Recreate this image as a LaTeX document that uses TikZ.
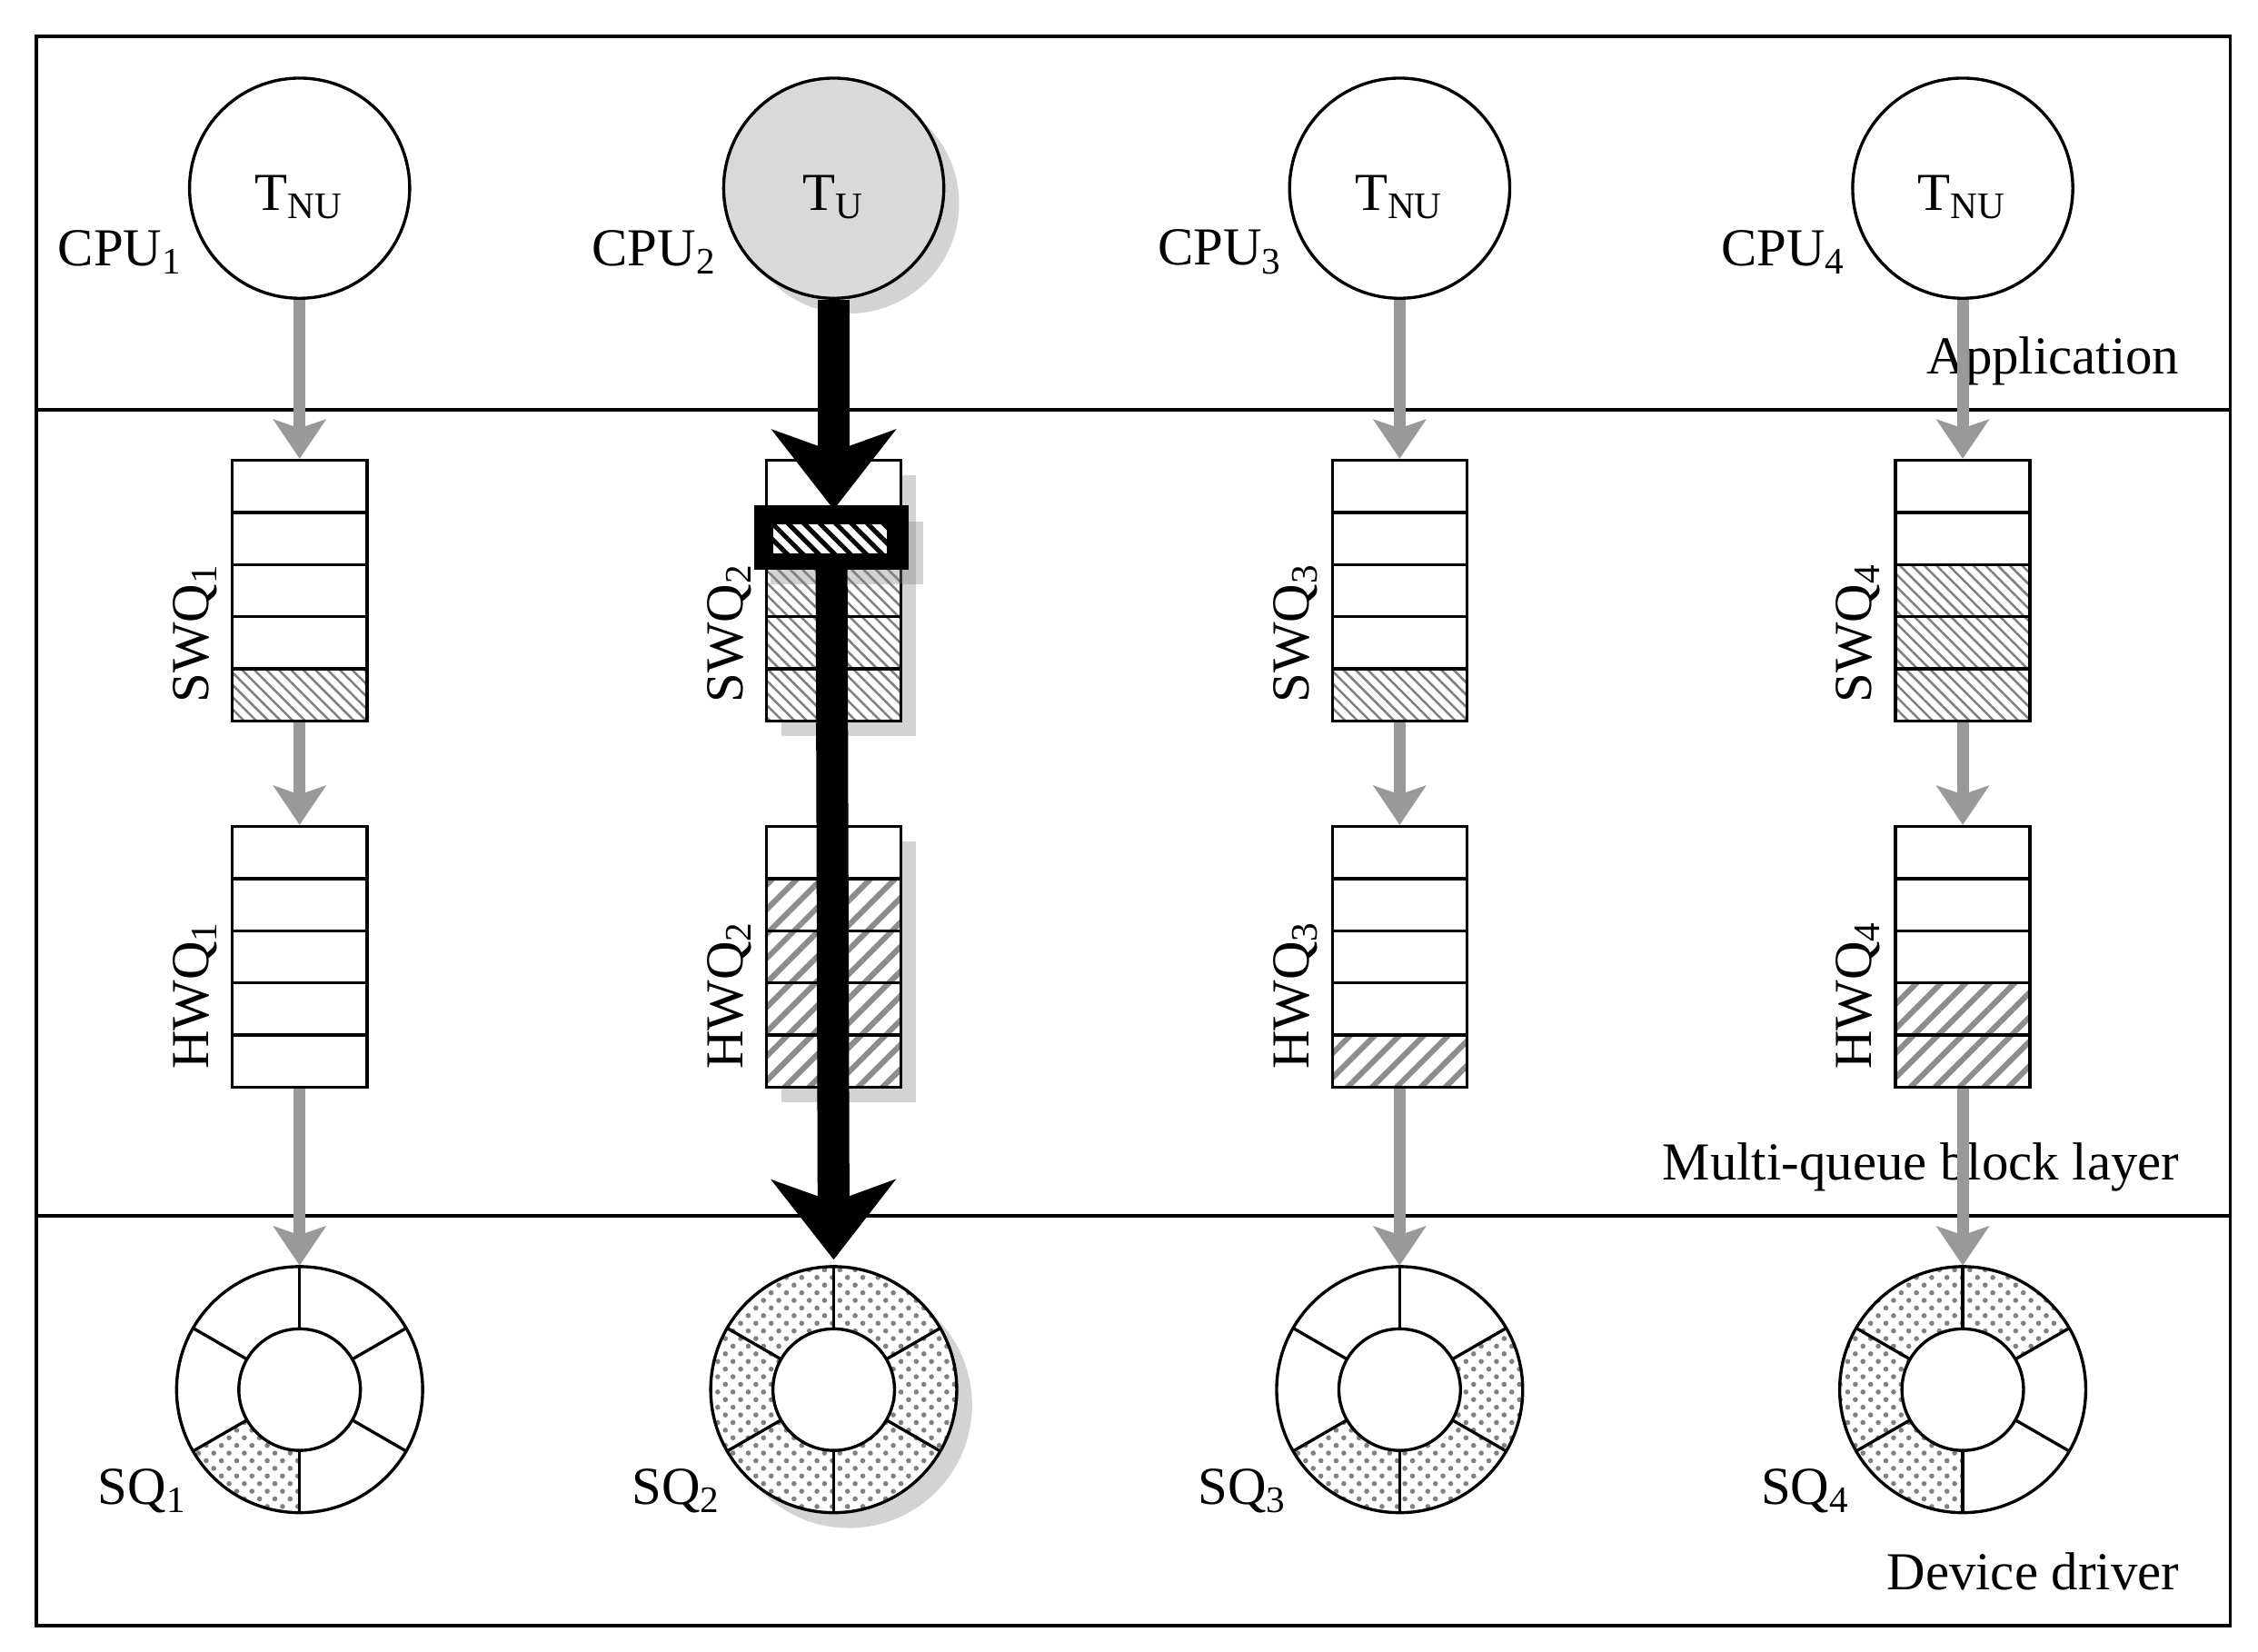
\documentclass[tikz,border=0pt]{standalone}
\usepackage{fontspec}
\setmainfont{Liberation Serif}
\usetikzlibrary{arrows.meta,patterns,patterns.meta,shadows}
\begin{document}
\begin{tikzpicture}[x=0.01cm,y=-0.01cm,font=\fontsize{10.5}{12}\selectfont,
  frame/.style={line width=0.6pt},
  cpu/.style={circle,draw,line width=0.6pt,minimum size=1.52cm,inner sep=0pt,fill=white},
  queue/.style={rectangle,draw,line width=0.6pt,minimum width=0.93cm,minimum height=1.8cm,inner sep=0pt},
  ring/.style={circle,minimum size=1.7cm,inner sep=0pt},
  garrow/.style={draw=gray!80,line width=2.3pt,-{Stealth[length=0.27cm,width=0.36cm,inset=0.06cm]}},
  barrow/.style={draw=black,line width=0.22cm,-{Stealth[length=0.55cm,width=0.85cm,inset=0.15cm]}},
  swfill/.style={pattern={Lines[angle=-45,distance=1.7pt,line width=0.45pt]},pattern color=gray},
  hwfill/.style={pattern={Lines[angle=45,distance=3.4pt,line width=1.1pt]},pattern color=gray!90},
  sqfill/.style={pattern=crosshatch dots,pattern color=gray},
  shad/.style={drop shadow={opacity=0.35,shadow xshift=3pt,shadow yshift=-3pt}}
]
\useasboundingbox (0,0) rectangle (1560,1141);
\draw[frame] (25,25) rectangle (1541,1123);
\draw[frame] (25,283) -- (1541,283);
\draw[frame] (25,840) -- (1541,840);
\node[anchor=base east] (lapp) at (1518,258) {Application};
\node[anchor=base east] (lmq) at (1518,815) {Multi-queue block layer};
\node[anchor=base east] (ldd) at (1518,1098) {Device driver};

% CPU circles
\node[cpu] (c1) at (207,130) {};
\node[cpu,fill=gray!30,shad] (c2) at (576,130) {};
\node[cpu] (c3) at (967,130) {};
\node[cpu] (c4) at (1356,130) {};
\node (t1) at (207,136) {T\textsubscript{NU}};
\node (t2) at (576,136) {T\textsubscript{U}};
\node (t3) at (967,136) {T\textsubscript{NU}};
\node (t4) at (1356,136) {T\textsubscript{NU}};
\foreach \x/\i in {207/1,576/2,967/3,1356/4}{
  \node[anchor=east] (cpul\i) at (\x-68,174) {CPU\textsubscript{\i}};
  \node[anchor=east] (sql\i) at (\x-65,1030) {SQ\textsubscript{\i}};
}

% queues
\node[queue,fill=white,shad] (s2) at (576,408) {};
\node[queue,fill=white,shad] (h2) at (576,661) {};
\node[queue] (s1) at (207,408) {};
\node[queue] (s3) at (967,408) {};
\node[queue] (s4) at (1356,408) {};
\node[queue] (h1) at (207,661) {};
\node[queue] (h3) at (967,661) {};
\node[queue] (h4) at (1356,661) {};
\foreach \x/\k in {207/5,576/3,576/4,576/5,967/5,1356/3,1356/4,1356/5}{
  \fill[swfill] (\x-46.5,318+36*\k-36) rectangle (\x+46.5,318+36*\k);
}
\foreach \x/\k in {576/2,576/3,576/4,576/5,967/5,1356/4,1356/5}{
  \fill[hwfill] (\x-46.5,571+36*\k-36) rectangle (\x+46.5,571+36*\k);
}
\foreach \x in {207,576,967,1356}{
  \draw[line width=0.6pt] (\x-46.5,318) rectangle (\x+46.5,498);
  \draw[line width=0.6pt] (\x-46.5,571) rectangle (\x+46.5,751);
  \foreach \k in {1,2,3,4}{
    \draw[line width=0.6pt] (\x-46.5,318+36*\k) -- (\x+46.5,318+36*\k);
    \draw[line width=0.6pt] (\x-46.5,571+36*\k) -- (\x+46.5,571+36*\k);
  }
}
\foreach \x/\i in {207/1,576/2,967/3,1356/4}{
  \node[rotate=90,anchor=base west] (swl\i) at (\x-63,498) {SWQ\textsubscript{\i}};
  \node[rotate=90,anchor=base west] (hwl\i) at (\x-63,751) {HWQ\textsubscript{\i}};
}

% rings
\node[ring] (r1) at (207,960) {};
\node[ring,fill=white,shad] (r2) at (576,960) {};
\node[ring] (r3) at (967,960) {};
\node[ring] (r4) at (1356,960) {};
\foreach \x/\list in {207/{210},576/{30,90,150,210,270,330},967/{210,270,330},1356/{30,90,150,210}}{
  \begin{scope}[shift={(\x,960)}]
    \foreach \a in \list{
      \fill[sqfill] (-\a:85) arc[start angle=-\a,end angle=-\a-60,radius=85] -- (-\a-60:42) arc[start angle=-\a-60,end angle=-\a,radius=42] -- cycle;
    }
    \draw[line width=0.6pt,fill=white] (0,0) circle[radius=42];
    \draw[line width=0.6pt] (0,0) circle[radius=85];
    \foreach \a in {30,90,150,210,270,330}{
      \draw[line width=0.6pt] (\a:42) -- (\a:85);
    }
  \end{scope}
}

% gray arrows
\foreach \i in {1,3,4}{
  \draw[garrow] (c\i) -- (s\i);
  \draw[garrow] (s\i) -- (h\i);
  \draw[garrow] (h\i) -- (r\i);
}

% black path column 2
\coordinate (bt) at (576,352);
\draw[barrow] (c2.south) -- (bt);
\node[draw=black,fill=black,minimum width=1.05cm,minimum height=0.43cm,inner sep=0pt,shad] (bb) at (574.5,371.5) {};
\fill[white] (534,362) rectangle (613,382);
\fill[pattern={Lines[angle=-45,distance=2.2pt,line width=0.9pt]},pattern color=black] (534,362) rectangle (613,382);
\draw[barrow] (bb.south) -- ([yshift=0.04cm]r2.north);
\end{tikzpicture}
\end{document}
